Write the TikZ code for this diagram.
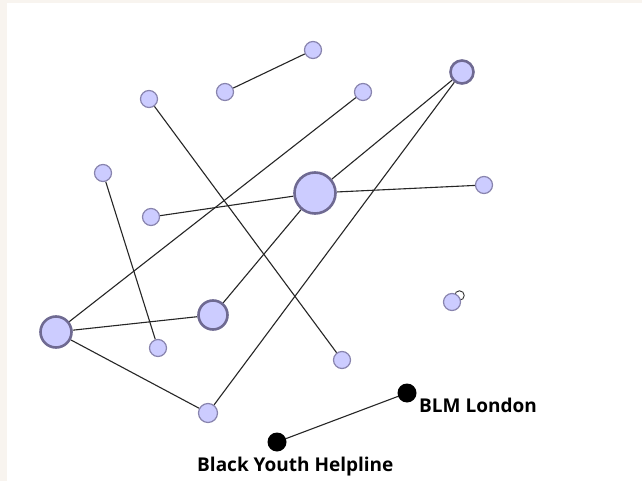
\documentclass[tikz,border=0pt]{standalone}
\usepackage{fontspec}
\setmainfont{Open Sans}
\usetikzlibrary{backgrounds}
\definecolor{pagebeige}{HTML}{F8F4EF}
\definecolor{nodefill}{HTML}{CCCCFF}
\definecolor{bigstroke}{HTML}{6F6A92}
\definecolor{smallstroke}{HTML}{8884AE}
\begin{document}
\begin{tikzpicture}[x=1pt,y=-1pt,
  edge/.style={draw=black!85, line width=1.1pt},
  hub/.style={circle, fill=nodefill, draw=bigstroke, line width=2.6pt, inner sep=0pt},
  leaf/.style={circle, fill=nodefill, draw=smallstroke, line width=1.2pt, inner sep=0pt, minimum size=17pt},
  org/.style={circle, fill=black, inner sep=0pt, minimum size=19pt},
  orglabel/.style={font=\bfseries\fontsize{19}{21}\selectfont, inner sep=0pt, anchor=base west}
]
% page frame
\useasboundingbox (0,0) rectangle (642,481);

% hub nodes
\node[hub, minimum size=31pt] (a) at (56,332) {};
\node[hub, minimum size=41pt] (b) at (315,193) {};
\node[hub, minimum size=29pt] (c) at (213,315) {};
\node[hub, minimum size=23pt] (d) at (462,72) {};

% leaf nodes
\node[leaf] (n1) at (313,50) {};
\node[leaf] (n2) at (225,92) {};
\node[leaf] (n3) at (149,99) {};
\node[leaf] (n4) at (363,92) {};
\node[leaf] (n5) at (103,173) {};
\node[leaf] (n6) at (151,217) {};
\node[leaf] (n7) at (484,185) {};
\node[leaf] (n8) at (158,348) {};
\node[leaf] (n9) at (342,360) {};
\node[leaf, minimum size=19pt] (n10) at (208,413) {};
\node[leaf] (n11) at (452,302) {};

% organisations
\node[org] (blm) at (407,393) {};
\node[org] (byh) at (277,442) {};
\node[orglabel] (blmlab) at (419,412) {BLM London};
\node[orglabel] (byhlab) at (197,471) {Black Youth Helpline};

\begin{scope}[on background layer]
  \fill[pagebeige] (0,0) rectangle (642,481);
  \fill[white] (7,3) rectangle (642,481);
  % small ring tucked behind n11
  \node[circle, draw=black!80, fill=white, line width=0.9pt, inner sep=0pt, minimum size=9.5pt] (ring) at (459.5,295.5) {};
  \draw[edge] (n1) -- (n2);
  \draw[edge] (n3) -- (n9);
  \draw[edge] (n4) -- (a);
  \draw[edge] (d) -- (b);
  \draw[edge] (d) -- (n10);
  \draw[edge] (b) -- (n6);
  \draw[edge] (b) -- (n7);
  \draw[edge] (b) -- (c);
  \draw[edge] (a) -- (c);
  \draw[edge] (a) -- (n10);
  \draw[edge] (n5) -- (n8);
  \draw[edge] (blm) -- (byh);
\end{scope}
\end{tikzpicture}
\end{document}
